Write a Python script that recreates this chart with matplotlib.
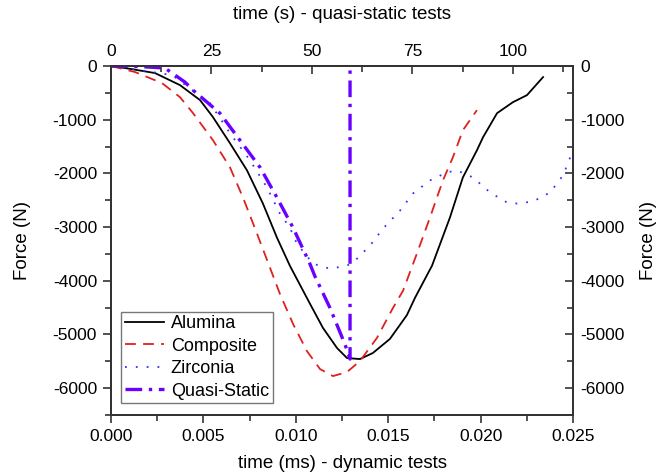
import matplotlib.pyplot as plt
from matplotlib.ticker import MultipleLocator

plt.rcParams['font.family'] = ['Liberation Sans', 'DejaVu Sans']
plt.rcParams['axes.unicode_minus'] = False

# dynamic tests, time in ms, force in N
alumina_t = [0, 0.00076, 0.00238, 0.00373, 0.00482, 0.00552, 0.00644, 0.00736, 0.00822,
             0.00898, 0.00968, 0.01077, 0.01147, 0.01223, 0.01277, 0.01347, 0.01417,
             0.01509, 0.01601, 0.01645, 0.01737, 0.01834, 0.01904, 0.0198, 0.02013,
             0.02089, 0.02175, 0.02251, 0.02338]
alumina_f = [0, -37, -131, -355, -635, -953, -1439, -1944, -2561, -3196, -3720, -4430,
             -4878, -5252, -5439, -5458, -5345, -5084, -4640, -4317, -3719, -2822, -2075,
             -1570, -1327, -878, -673, -542, -206]

composite_t = [0, 0.0013, 0.00276, 0.00373, 0.00444, 0.00552, 0.00644, 0.00714, 0.0079,
               0.00914, 0.00985, 0.0106, 0.01131, 0.01201, 0.01277, 0.01347, 0.01439,
               0.01526, 0.0158, 0.01655, 0.01726, 0.01796, 0.0185, 0.01904, 0.0198]
composite_f = [0, -112, -318, -579, -878, -1383, -1888, -2448, -3121, -4243, -4803, -5308,
               -5644, -5775, -5700, -5495, -5065, -4504, -4187, -3495, -2822, -2131, -1701,
               -1196, -822]

zirconia_t = [0, 0.00076, 0.0033, 0.00536, 0.00644, 0.00752, 0.00844, 0.00914, 0.00968,
              0.01006, 0.01093, 0.01185, 0.01277, 0.0132, 0.01401, 0.01472, 0.01564,
              0.01634, 0.01726, 0.01818, 0.01872, 0.01959, 0.02051, 0.02143, 0.02197,
              0.02284, 0.02376, 0.02446, 0.025]
zirconia_f = [0, -37, -168, -692, -1252, -1757, -2261, -2747, -3009, -3308, -3682, -3775,
              -3719, -3626, -3346, -3028, -2691, -2374, -2131, -1981, -1944, -2075, -2355,
              -2542, -2561, -2523, -2355, -2037, -1570]

# quasi-static test, time in s
quasi_t = [0, 7.2, 13.4, 18.4, 20.4, 27.1, 32.1, 37.1, 41.3, 45.3, 49.5, 50.7, 54.5,
           58.2, 59.5, 59.5]
quasi_f = [0, -10, -37, -299, -449, -878, -1383, -1888, -2448, -3009, -3682, -3906,
           -4504, -5177, -5458, 0]

fig = plt.figure(figsize=(6.56, 4.75), dpi=100)
ax = fig.add_axes([0.1692, 0.1263, 0.7043, 0.7347])
ax_top = ax.twiny()
ax_right = ax.twinx()

l1, = ax.plot(alumina_t, alumina_f, color='black', lw=1.3, label='Alumina')
l2, = ax.plot(composite_t, composite_f, color='#e02020', lw=1.3, ls=(0, (6, 4)),
              label='Composite')
l3, = ax.plot(zirconia_t, zirconia_f, color='#3030ff', lw=1.3, ls=(0, (1, 5)),
              label='Zirconia')
l4, = ax_top.plot(quasi_t, quasi_f, color='#6a00ff', lw=2.4, ls=(0, (5, 2, 1, 2)),
                  label='Quasi-Static')

ax.set_xlim(0, 0.025)
ax.set_ylim(-6500, 0)
ax_right.set_ylim(-6500, 0)
ax_top.set_xlim(0, 115)

ax.xaxis.set_major_locator(MultipleLocator(0.005))
ax.xaxis.set_minor_locator(MultipleLocator(0.0025))
ax.xaxis.set_major_formatter(plt.FormatStrFormatter('%.3f'))
ax.yaxis.set_major_locator(MultipleLocator(1000))
ax.yaxis.set_minor_locator(MultipleLocator(500))
ax_right.yaxis.set_major_locator(MultipleLocator(1000))
ax_right.yaxis.set_minor_locator(MultipleLocator(500))
ax_top.xaxis.set_major_locator(MultipleLocator(25))
ax_top.xaxis.set_minor_locator(MultipleLocator(12.5))

ax.tick_params(which='major', direction='out', length=6, width=1.2, labelsize=12.5,
               color='#333333', pad=4)
ax.tick_params(which='minor', direction='out', length=4, width=1.2, color='#333333')
for a in (ax_top, ax_right):
    a.tick_params(which='major', direction='in', length=6, width=1.2, labelsize=12.5,
                  color='#333333', pad=5)
    a.tick_params(which='minor', direction='in', length=4, width=1.2, color='#333333')

for a in (ax, ax_top, ax_right):
    for s in a.spines.values():
        s.set_linewidth(1.3)
        s.set_color('#333333')

ax.set_xlabel('time (ms) - dynamic tests', fontsize=13.5, labelpad=8)
ax_top.set_xlabel('time (s) - quasi-static tests', fontsize=13.5, labelpad=18)
ax.set_ylabel('Force (N)', fontsize=13.5, labelpad=16)
ax_right.set_ylabel('Force (N)', fontsize=13.5, labelpad=11)

leg = ax_right.legend(handles=[l1, l2, l3, l4], loc='lower left', bbox_to_anchor=(0.022, 0.034),
                      fontsize=13, frameon=True, fancybox=False, handlelength=2.2,
                      borderpad=0.2, labelspacing=0.3, handletextpad=0.35, borderaxespad=0)
leg.get_frame().set_edgecolor('#555555')
leg.get_frame().set_linewidth(1.0)

fig.savefig('out.png', dpi=100)
